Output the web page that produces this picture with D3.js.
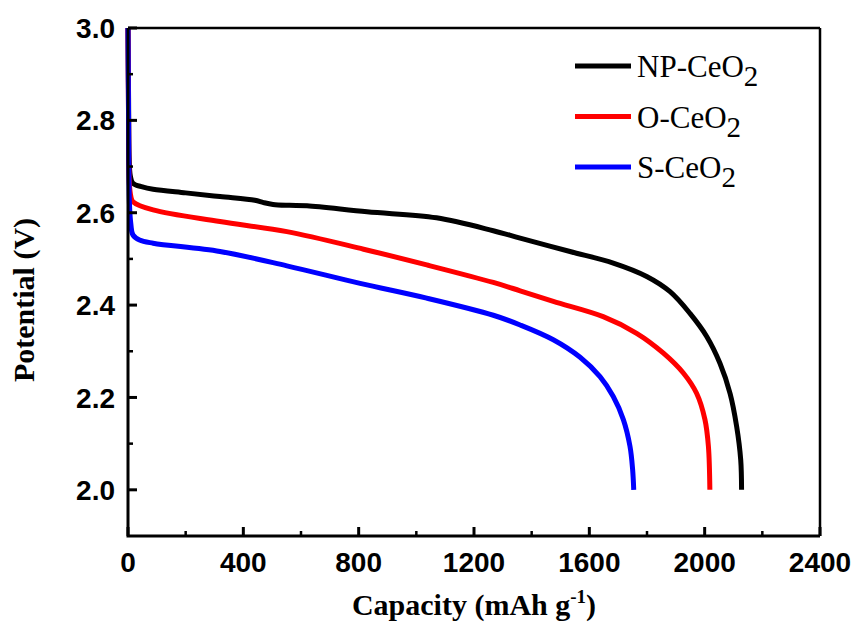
<!DOCTYPE html>
<html>
<head>
<meta charset="utf-8">
<script src="https://cdn.jsdelivr.net/npm/d3@7"></script>
<style>
	body { margin: 0; background: #fff; }
	svg { display: block; }
	.tick-label { font-family: 'Liberation Sans', Arial, sans-serif; font-weight: bold; font-size: 28px; fill: #000; }
	.axis-title { font-family: 'Liberation Serif', 'Times New Roman', serif; font-weight: bold; font-size: 30px; fill: #000; }
	.legend-label { font-family: 'Liberation Serif', 'Times New Roman', serif; font-size: 31px; fill: #000; }
</style>
</head>
<body>
<div class="graphic__container"></div>
<script>
const seriesNames = ['NP-CeO', 'O-CeO', 'S-CeO']
const seriesColors = ['#000000', '#ff0000', '#0000ff']

// capacity (mAh g-1) and potential (V)
const npCapacity = [0, 2, 4, 8, 17, 50, 87, 200, 319, 440, 470, 503, 560, 621, 829, 1070, 1267, 1360, 1533, 1683, 1799, 1880, 1949, 2007, 2053, 2088, 2111, 2125, 2128]
const npPotential = [3.0, 2.85, 2.72, 2.68, 2.664, 2.656, 2.651, 2.643, 2.635, 2.627, 2.622, 2.618, 2.616, 2.615, 2.602, 2.589, 2.561, 2.545, 2.516, 2.491, 2.462, 2.429, 2.382, 2.332, 2.274, 2.209, 2.137, 2.065, 2.0]

const oCapacity = [0, 2, 5, 10, 17, 87, 319, 551, 817, 1036, 1267, 1360, 1475, 1648, 1764, 1857, 1926, 1972, 2001, 2013, 2018]
const oPotential = [3.0, 2.8, 2.66, 2.635, 2.624, 2.606, 2.581, 2.559, 2.521, 2.487, 2.449, 2.431, 2.408, 2.375, 2.339, 2.296, 2.253, 2.209, 2.152, 2.094, 2.0]

const sCapacity = [0, 2, 5, 10, 17, 40, 87, 319, 551, 805, 1036, 1267, 1360, 1475, 1568, 1637, 1683, 1718, 1741, 1750, 1754]
const sPotential = [3.0, 2.8, 2.62, 2.575, 2.552, 2.541, 2.534, 2.516, 2.485, 2.447, 2.415, 2.378, 2.357, 2.325, 2.287, 2.245, 2.202, 2.152, 2.094, 2.045, 2.0]

const xTicks = [0, 400, 800, 1200, 1600, 2000, 2400]
const xMinorTicks = [200, 600, 1000, 1400, 1800, 2200]
const yTicks = [2.0, 2.2, 2.4, 2.6, 2.8, 3.0]
const yMinorTicks = [2.1, 2.3, 2.5, 2.7, 2.9]

const width = 855
const height = 639
const margin = { top: 28, right: 35, bottom: 103, left: 128 }

const scaleX = d3.scaleLinear()
const scaleY = d3.scaleLinear()

function translate(x, y) {
	return `translate(${x}, ${y})`
}

function makeSeries() {
	const caps = [npCapacity, oCapacity, sCapacity]
	const pots = [npPotential, oPotential, sPotential]
	return seriesNames.map((name, i) => ({
		name,
		color: seriesColors[i],
		values: caps[i].map((c, j) => ({ cap: c, v: pots[i][j] }))
	}))
}

function updateScales() {
	scaleX.domain([0, 2400]).range([0, width - margin.left - margin.right])
	scaleY.domain([1.9, 3.0]).range([height - margin.top - margin.bottom, 0])
}

function drawAxes(g) {
	const w = scaleX.range()[1]
	const h = scaleY.range()[0]
	const axis = g.append('g').attr('class', 'g-axis')

	// frame
	axis.append('line').attr('x1', 0).attr('x2', w).attr('y1', 0).attr('y2', 0)
		.attr('stroke', '#000').attr('stroke-width', 2.5)
	axis.append('line').attr('x1', w).attr('x2', w).attr('y1', 0).attr('y2', h)
		.attr('stroke', '#000').attr('stroke-width', 2.5)
	axis.append('path')
		.attr('d', `M0,0V${h}H${w}`)
		.attr('fill', 'none')
		.attr('stroke', '#000')
		.attr('stroke-width', 3)

	// x ticks (inward)
	axis.selectAll('.x-major').data(xTicks).enter().append('line')
		.attr('class', 'x-major')
		.attr('x1', d => scaleX(d)).attr('x2', d => scaleX(d))
		.attr('y1', h).attr('y2', h - 9)
		.attr('stroke', '#000').attr('stroke-width', 3)
	axis.selectAll('.x-minor').data(xMinorTicks).enter().append('line')
		.attr('class', 'x-minor')
		.attr('x1', d => scaleX(d)).attr('x2', d => scaleX(d))
		.attr('y1', h).attr('y2', h - 5)
		.attr('stroke', '#000').attr('stroke-width', 2.5)
	axis.selectAll('.x-label').data(xTicks).enter().append('text')
		.attr('class', 'tick-label')
		.attr('x', d => scaleX(d))
		.attr('y', h + 36)
		.attr('text-anchor', 'middle')
		.text(d => d)

	// y ticks (inward)
	axis.selectAll('.y-major').data(yTicks).enter().append('line')
		.attr('class', 'y-major')
		.attr('x1', 0).attr('x2', 9)
		.attr('y1', d => scaleY(d)).attr('y2', d => scaleY(d))
		.attr('stroke', '#000').attr('stroke-width', 3)
	axis.selectAll('.y-minor').data(yMinorTicks).enter().append('line')
		.attr('class', 'y-minor')
		.attr('x1', 0).attr('x2', 5)
		.attr('y1', d => scaleY(d)).attr('y2', d => scaleY(d))
		.attr('stroke', '#000').attr('stroke-width', 2.5)
	axis.selectAll('.y-label').data(yTicks).enter().append('text')
		.attr('class', 'tick-label')
		.attr('x', -13)
		.attr('y', d => scaleY(d))
		.attr('dy', '0.36em')
		.attr('text-anchor', 'end')
		.text(d => d.toFixed(1))

	// titles
	const xt = axis.append('text')
		.attr('class', 'axis-title')
		.attr('x', w / 2)
		.attr('y', h + 79)
		.attr('text-anchor', 'middle')
	xt.append('tspan').text('Capacity (mAh g')
	xt.append('tspan').attr('dy', -12).attr('font-size', '19px').text('-1')
	xt.append('tspan').attr('dy', 12).text(')')

	axis.append('text')
		.attr('class', 'axis-title')
		.attr('transform', `${translate(-94, h / 2 + 18)} rotate(-90)`)
		.attr('text-anchor', 'middle')
		.text('Potential (V)')
}

function drawLines(g, series) {
	const line = d3.line()
		.x(d => scaleX(d.cap))
		.y(d => scaleY(d.v))
		.curve(d3.curveCatmullRom.alpha(0.5))

	g.append('g').attr('class', 'g-lines')
		.selectAll('path').data(series).enter().append('path')
		.attr('d', d => line(d.values))
		.attr('fill', 'none')
		.attr('stroke', d => d.color)
		.attr('stroke-width', 5)
		.attr('stroke-linejoin', 'round')
}

function drawLegend(g, series) {
	const legend = g.append('g').attr('class', 'g-legend')
		.attr('transform', translate(447, 38))
	const item = legend.selectAll('g').data(series).enter().append('g')
		.attr('transform', (d, i) => translate(0, i * 50.5))
	item.append('line')
		.attr('x1', 0).attr('x2', 56)
		.attr('y1', 0).attr('y2', 0)
		.attr('stroke', d => d.color)
		.attr('stroke-width', 5)
	const label = item.append('text')
		.attr('class', 'legend-label')
		.attr('x', 62)
		.attr('y', 11)
	label.append('tspan').text(d => d.name)
	label.append('tspan').attr('dy', 9).attr('font-size', '29px').text('2')
}

function setup() {
	const series = makeSeries()
	updateScales()
	const svg = d3.select('.graphic__container').append('svg')
		.attr('width', width)
		.attr('height', height)
	const g = svg.append('g').attr('transform', translate(margin.left, margin.top))
	drawLines(g, series)
	drawAxes(g)
	drawLegend(g, series)
}

setup()
</script>
</body>
</html>
